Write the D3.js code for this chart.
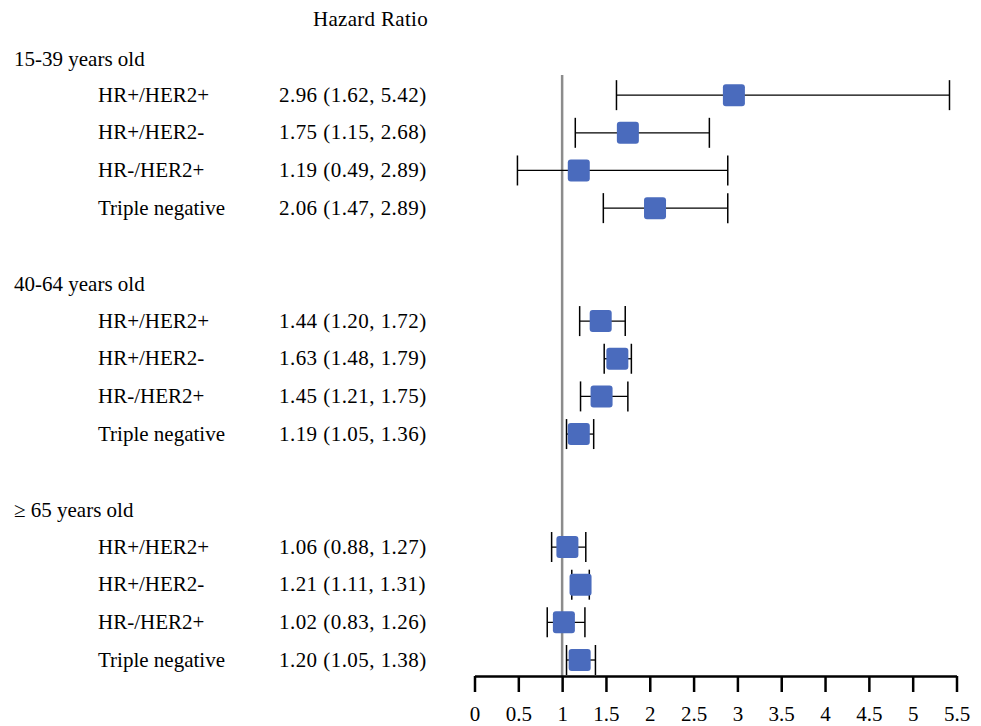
<!DOCTYPE html>
<html>
<head>
<meta charset="utf-8">
<script src="https://cdn.jsdelivr.net/npm/d3@7"></script>
<style>
  body { margin: 0; background: #fff; }
  text { font-family: "Liberation Serif", "Times New Roman", serif; fill: #000; }
</style>
</head>
<body>
<script>
// data
const groups = ['15-39 years old', '40-64 years old', '\u2265 65 years old']
const subtypes = ['HR+/HER2+', 'HR+/HER2-', 'HR-/HER2+', 'Triple negative']
const hr = [
  [2.96, 1.75, 1.19, 2.06],
  [1.44, 1.63, 1.45, 1.19],
  [1.06, 1.21, 1.02, 1.20],
]
const lower = [
  [1.62, 1.15, 0.49, 1.47],
  [1.20, 1.48, 1.21, 1.05],
  [0.88, 1.11, 0.83, 1.05],
]
const upper = [
  [5.42, 2.68, 2.89, 2.89],
  [1.72, 1.79, 1.75, 1.36],
  [1.27, 1.31, 1.26, 1.38],
]
const ticks = [0, 0.5, 1, 1.5, 2, 2.5, 3, 3.5, 4, 4.5, 5, 5.5]

/*----------------------------------------------------------------------------*/

const width = 981
const height = 726
const fontSize = 21

const x = d3.scaleLinear().domain([0, 5.5]).range([474.5, 956.5])
// one row per line of text: heading, 4 subtypes, blank
const y = d3.scaleLinear().domain([0, 16]).range([57.5, 660])

const rows = []
groups.forEach((g, gi) => {
  subtypes.forEach((s, si) => {
    rows.push({
      row: gi * 6 + 1 + si,
      label: s,
      hr: hr[gi][si],
      lo: lower[gi][si],
      hi: upper[gi][si],
    })
  })
})

const svg = d3.select('body').append('svg')
  .attr('width', width)
  .attr('height', height)

svg.append('text')
  .attr('x', 313)
  .attr('y', 26)
  .style('font-size', fontSize + 'px')
  .style('letter-spacing', '0.3px')
  .text('Hazard Ratio')

svg.selectAll('.group')
  .data(groups)
  .enter()
  .append('text')
  .attr('class', 'group')
  .attr('x', 14)
  .attr('y', (d, i) => y(i * 6) + 8)
  .style('font-size', fontSize + 'px')
  .text(d => d)

svg.selectAll('.label')
  .data(rows)
  .enter()
  .append('text')
  .attr('class', 'label')
  .attr('x', 98)
  .attr('y', d => y(d.row) + 6.5)
  .style('font-size', fontSize + 'px')
  .text(d => d.label)

const f = d3.format('.2f')
svg.selectAll('.value')
  .data(rows)
  .enter()
  .append('text')
  .attr('class', 'value')
  .attr('x', 279)
  .attr('y', d => y(d.row) + 6.5)
  .style('font-size', fontSize + 'px')
  .style('letter-spacing', '0.45px')
  .text(d => `${f(d.hr)} (${f(d.lo)}, ${f(d.hi)})`)

// reference line at HR = 1
svg.append('line')
  .attr('x1', x(1)).attr('x2', x(1))
  .attr('y1', 75).attr('y2', 676)
  .attr('stroke', '#8c8c8c')
  .attr('stroke-width', 2.5)

const ci = svg.selectAll('.ci')
  .data(rows)
  .enter()
  .append('g')
  .attr('class', 'ci')
  .attr('transform', d => `translate(0, ${y(d.row)})`)

ci.append('line')
  .attr('x1', d => x(d.lo)).attr('x2', d => x(d.hi))
  .attr('stroke', '#000').attr('stroke-width', 1.3)

ci.append('line')
  .attr('x1', d => x(d.lo)).attr('x2', d => x(d.lo))
  .attr('y1', -15).attr('y2', 15)
  .attr('stroke', '#000').attr('stroke-width', 1.5)

ci.append('line')
  .attr('x1', d => x(d.hi)).attr('x2', d => x(d.hi))
  .attr('y1', -15).attr('y2', 15)
  .attr('stroke', '#000').attr('stroke-width', 1.5)

ci.append('rect')
  .attr('x', d => x(d.hr) - 11)
  .attr('y', -11)
  .attr('width', 22)
  .attr('height', 22)
  .attr('rx', 3)
  .attr('fill', '#4a6bbd')

// bottom axis, ticks pointing down
const axis = d3.axisBottom(x)
  .tickValues(ticks)
  .tickFormat(d => d)
  .tickSize(16)
  .tickSizeOuter(0)
  .tickPadding(14)

const gAxis = svg.append('g')
  .attr('transform', 'translate(0, 676)')
  .call(axis)

gAxis.select('.domain').attr('stroke-width', 2.5)
gAxis.selectAll('.tick line').attr('stroke-width', 2.5)
gAxis.selectAll('.tick text')
  .style('font-family', '"Liberation Serif", serif')
  .style('font-size', fontSize + 'px')
</script>
</body>
</html>
